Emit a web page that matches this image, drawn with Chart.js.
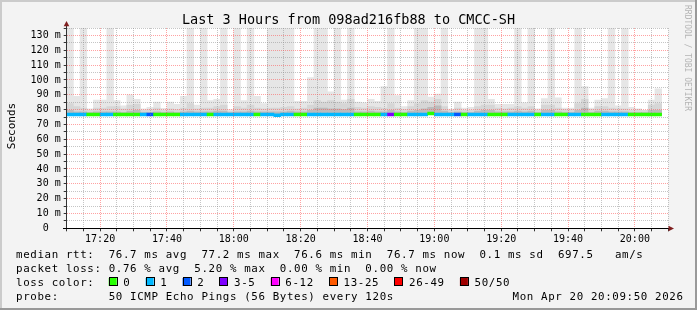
<!DOCTYPE html>
<html>
<head>
<meta charset="utf-8">
<script src="https://cdn.jsdelivr.net/npm/chart.js@4/dist/chart.umd.min.js"></script>
<style>
  html, body { margin: 0; padding: 0; background: #f3f3f3; }
  #wrap { width: 697px; height: 310px; }
</style>
</head>
<body>
<div id="wrap"><canvas id="smoke" width="697" height="310"></canvas></div>
<script>
// one column every 2 minutes, starting 17:10
const timeLabels = ['17:20', '17:40', '18:00', '18:20', '18:40', '19:00', '19:20', '19:40', '20:00'];

const medianRtt = [
  76.7, 76.7, 76.7, 76.7, 76.7, 76.7, 76.7, 76.7, 76.7, 76.7,
  76.7, 76.7, 76.7, 76.7, 76.7, 76.7, 76.7, 76.7, 76.7, 76.7,
  76.7, 76.7, 76.7, 76.7, 76.7, 76.7, 76.7, 76.7, 76.7, 76.7,
  76.7, 76.2, 76.7, 76.7, 76.7, 76.7, 76.7, 76.7, 76.7, 76.7,
  76.7, 76.7, 76.7, 76.7, 76.7, 76.7, 76.7, 76.7, 76.7, 76.7,
  76.7, 76.7, 76.7, 76.7, 77.3, 76.7, 76.7, 76.7, 76.7, 76.7,
  76.7, 76.7, 76.7, 76.7, 76.7, 76.7, 76.7, 76.7, 76.7, 76.7,
  76.7, 76.7, 76.7, 76.7, 76.7, 76.7, 76.7, 76.7, 76.7, 76.7,
  76.7, 76.7, 76.7, 76.7, 76.7, 76.7, 76.7, 76.7, 76.7
];

// lost pings out of 50 per column
const lossPings = [
  1, 1, 1, 0, 0, 1, 1, 0, 0, 0,
  0, 1, 2, 0, 0, 0, 0, 1, 1, 1,
  1, 0, 1, 1, 1, 1, 1, 1, 0, 1,
  1, 1, 1, 1, 0, 0, 1, 1, 1, 1,
  1, 1, 1, 0, 0, 0, 0, 1, 3, 0,
  0, 1, 1, 1, 0, 1, 1, 1, 2, 0,
  1, 1, 1, 0, 0, 0, 1, 1, 1, 1,
  0, 1, 1, 0, 0, 1, 1, 0, 0, 0,
  1, 1, 1, 1, 0, 0, 0, 0, 0
];

// smoke: slowest ping, upper band, core band (ms)
const smokeMax = [
  210, 89, 190, 80.5, 86.5, 86.5, 220, 86, 82.5, 90,
  87, 80.5, 81.5, 85, 80.8, 85, 83.5, 89, 200, 83,
  230, 86, 87, 200, 80, 190, 86, 240, 89, 84,
  200, 210, 220, 190, 85.5, 85.5, 101.5, 240, 200, 92,
  210, 86.5, 190, 85, 84.5, 87, 85.5, 95.5, 150, 89.5,
  82, 86, 200, 220, 88.5, 90.5, 190, 80.3, 85, 81,
  81.5, 210, 200, 87, 83.5, 83.5, 83.5, 190, 84.5, 200,
  80.5, 87.5, 210, 88, 81, 81, 190, 95.5, 81, 86.5,
  87.5, 200, 82.5, 190, 81.5, 80.5, 79.5, 86.5, 94
];
const smokeUpper = [
  84, 82, 81, 79.5, 81, 81, 82, 82, 80.5, 83,
  83.5, 79.5, 80, 81, 79.5, 80.5, 80, 81, 84, 80.5,
  81, 81, 82, 83, 79, 82, 81, 83, 81, 80.5,
  81, 81, 81.5, 82, 80.5, 81, 83, 86, 85, 86,
  85, 84, 87, 81.5, 81, 82, 81.5, 81, 84, 81,
  80, 82, 84, 86, 85, 87, 82, 79.5, 81, 79.5,
  79.5, 82, 83, 83, 81, 80.5, 81, 82, 81, 82,
  79.5, 83, 83, 81, 80, 80, 84, 87, 80, 82,
  82, 81, 80.5, 80.5, 79.5, 80, 79.5, 83, 84
];
const smokeCore = [
  79.5, 78.5, 78.5, 78, 78.5, 78.5, 78.5, 78.5, 78, 79,
  79.5, 78, 78, 78.5, 78, 78.5, 78, 78.5, 79, 78.5,
  78.5, 78.5, 79, 79, 78, 78.5, 78.5, 79, 78.5, 78.5,
  78.5, 78.5, 78.5, 79, 78.5, 78.5, 79.5, 81, 81, 80.5,
  80.5, 80, 81, 78.5, 78.5, 79, 78.5, 78.5, 79.5, 78.5,
  78, 79, 79.5, 80.5, 81.5, 82.5, 79, 78, 78.5, 78,
  78, 79, 79.5, 79.5, 78.5, 78.5, 78.5, 79, 78.5, 79,
  78, 79.5, 79.5, 78.5, 78, 78, 79.5, 81, 78, 79,
  79, 78.5, 78.5, 78.5, 78, 78, 78, 79.5, 79.5
];

const lossLegend = ['0', '1', '2', '3-5', '6-12', '13-25', '26-49', '50/50'];
const lossColors = ['#26ff00', '#00b8ff', '#0059ff', '#7e00ff', '#ff00ff', '#ff5a00', '#ff0000', '#a00000'];
const lossLimits = [0, 1, 2, 5, 12, 25, 49, 50];

const statLines = [
  'median rtt:  76.7 ms avg  77.2 ms max  76.6 ms min  76.7 ms now  0.1 ms sd  697.5   am/s',
  'packet loss: 0.76 % avg  5.20 % max  0.00 % min  0.00 % now',
  'loss color:',
  'probe:       50 ICMP Echo Pings (56 Bytes) every 120s'
];
const stamp = 'Mon Apr 20 20:09:50 2026';
const title = 'Last 3 Hours from 098ad216fb88 to CMCC-SH';

const MONO = '"DejaVu Sans Mono", monospace';
const ADV = 7.13;

function lossColor(n) {
  for (let i = 0; i < lossLimits.length; i++) {
    if (n <= lossLimits[i]) return lossColors[i];
  }
  return lossColors[lossColors.length - 1];
}

function mono(ctx, str, x, y) {
  for (let i = 0; i < str.length; i++) ctx.fillText(str[i], x + i * ADV, y);
}

const colX = i => i * 2 + 1;
const band = (top) => top.map((v, i) => ({ x: colX(i), y: [medianRtt[i], v] }));

function barSet(data, color, order) {
  return {
    type: 'bar', data, backgroundColor: color, order,
    grouped: false, barPercentage: 1, categoryPercentage: 1,
    borderWidth: 0, clip: 0
  };
}

const frame = {
  id: 'frame',
  beforeDraw(chart) {
    const { ctx, chartArea: a } = chart;
    ctx.save();
    ctx.fillStyle = '#f3f3f3';
    ctx.fillRect(0, 0, 697, 310);
    ctx.fillStyle = '#ffffff';
    ctx.fillRect(a.left, a.top, a.right - a.left, a.bottom - a.top);
    ctx.restore();
  },
  afterDraw(chart) {
    const { ctx, chartArea: a } = chart;
    ctx.save();
    // axes
    ctx.strokeStyle = '#333';
    ctx.lineWidth = 1;
    ctx.beginPath();
    ctx.moveTo(66.5, a.bottom + 0.5);
    ctx.lineTo(66.5, 25);
    ctx.stroke();
    ctx.strokeStyle = '#000';
    ctx.beginPath();
    ctx.moveTo(63, 228.5);
    ctx.lineTo(670, 228.5);
    ctx.stroke();
    ctx.fillStyle = '#7f1f1f';
    ctx.beginPath();
    ctx.moveTo(66.5, 21); ctx.lineTo(69.3, 26.3); ctx.lineTo(63.7, 26.3); ctx.closePath();
    ctx.fill();
    ctx.beginPath();
    ctx.moveTo(674, 228.5); ctx.lineTo(668.5, 225.7); ctx.lineTo(668.5, 231.3); ctx.closePath();
    ctx.fill();

    // title
    ctx.fillStyle = '#000';
    ctx.font = '13.5px ' + MONO;
    ctx.textAlign = 'center';
    ctx.textBaseline = 'alphabetic';
    ctx.fillText(title, 348.5, 24);

    // y axis title
    ctx.save();
    ctx.translate(15, 126);
    ctx.rotate(-Math.PI / 2);
    ctx.font = '11px ' + MONO;
    ctx.fillText('Seconds', 0, 0);
    ctx.restore();

    // watermark
    ctx.save();
    ctx.translate(685, 5);
    ctx.rotate(Math.PI / 2);
    ctx.font = '8px ' + MONO;
    ctx.textAlign = 'left';
    ctx.fillStyle = '#b4b4b4';
    ctx.fillText('RRDTOOL / TOBI OETIKER', 0, 0);
    ctx.restore();

    // legend
    ctx.font = '10.8px ' + MONO;
    ctx.textAlign = 'left';
    ctx.fillStyle = '#000';
    const base = [258, 272.3, 286, 300];
    statLines.forEach((s, i) => mono(ctx, s, 16, base[i]));
    mono(ctx, stamp, 512.5, base[3]);

    let x = 108.7;
    lossLegend.forEach((lab, i) => {
      ctx.fillStyle = lossColors[i];
      ctx.fillRect(x, 278, 8, 8);
      ctx.strokeStyle = '#000';
      ctx.lineWidth = 1;
      ctx.strokeRect(Math.round(x) + 0.5, 277.5, 8, 8);
      ctx.fillStyle = '#000';
      const lx = x + 14.6;
      mono(ctx, lab, lx, base[2]);
      x = lx + lab.length * ADV + 15.2;
    });

    // 3D frame
    ctx.fillStyle = '#cbcbcb';
    ctx.fillRect(0, 0, 697, 2);
    ctx.fillRect(0, 0, 2, 310);
    ctx.fillStyle = '#999999';
    ctx.fillRect(0, 308, 697, 2);
    ctx.fillRect(695, 0, 2, 310);
    ctx.restore();
  }
};

const MAJOR = 'rgba(255, 70, 70, 0.5)';
const MINOR = 'rgba(140, 140, 140, 0.5)';

new Chart(document.getElementById('smoke'), {
  type: 'bar',
  data: {
    datasets: [
      barSet(medianRtt.map((m, i) => ({ x: colX(i), y: [m - 0.95, m + 0.95] })),
             lossPings.map(lossColor), 0),
      barSet(band(smokeCore), '#bbbbbb', 1),
      barSet(band(smokeUpper), '#d6d6d6', 2),
      barSet(band(smokeMax), '#e6e6e6', 3)
    ]
  },
  options: {
    responsive: false,
    animation: false,
    events: [],
    layout: { padding: { left: 0, top: 28, right: 28.7, bottom: 0 } },
    plugins: { legend: { display: false }, tooltip: { enabled: false } },
    scales: {
      x: {
        type: 'linear', min: 0, max: 180, offset: false,
        afterFit: s => { s.height = 81.7; },
        grid: {
          z: 1, offset: false,
          color: c => (c.tick && c.tick.value % 20 === 10) ? MAJOR : MINOR,
          tickColor: '#333', tickLength: 3, tickBorderDash: []
        },
        border: { display: false, dash: [1, 1] },
        ticks: {
          stepSize: 5, autoSkip: false, maxRotation: 0, padding: 2,
          color: '#000', font: { family: MONO, size: 10 },
          callback: v => (v % 20 === 10) ? timeLabels[(v - 10) / 20] : ''
        }
      },
      y: {
        min: 0, max: 135,
        afterFit: s => { s.width = 66.7; },
        grid: {
          z: 1,
          color: c => (c.tick && c.tick.value % 10 === 0) ? MAJOR : MINOR,
          tickColor: '#333', tickLength: 3, tickBorderDash: []
        },
        border: { display: false, dash: [1, 1] },
        ticks: {
          stepSize: 5, autoSkip: false, padding: 3,
          color: '#000', font: { family: MONO, size: 10 },
          callback: v => (v % 10 !== 0) ? '' : (v === 0 ? '0  ' : v + ' m')
        }
      }
    }
  },
  plugins: [frame]
});
</script>
</body>
</html>
